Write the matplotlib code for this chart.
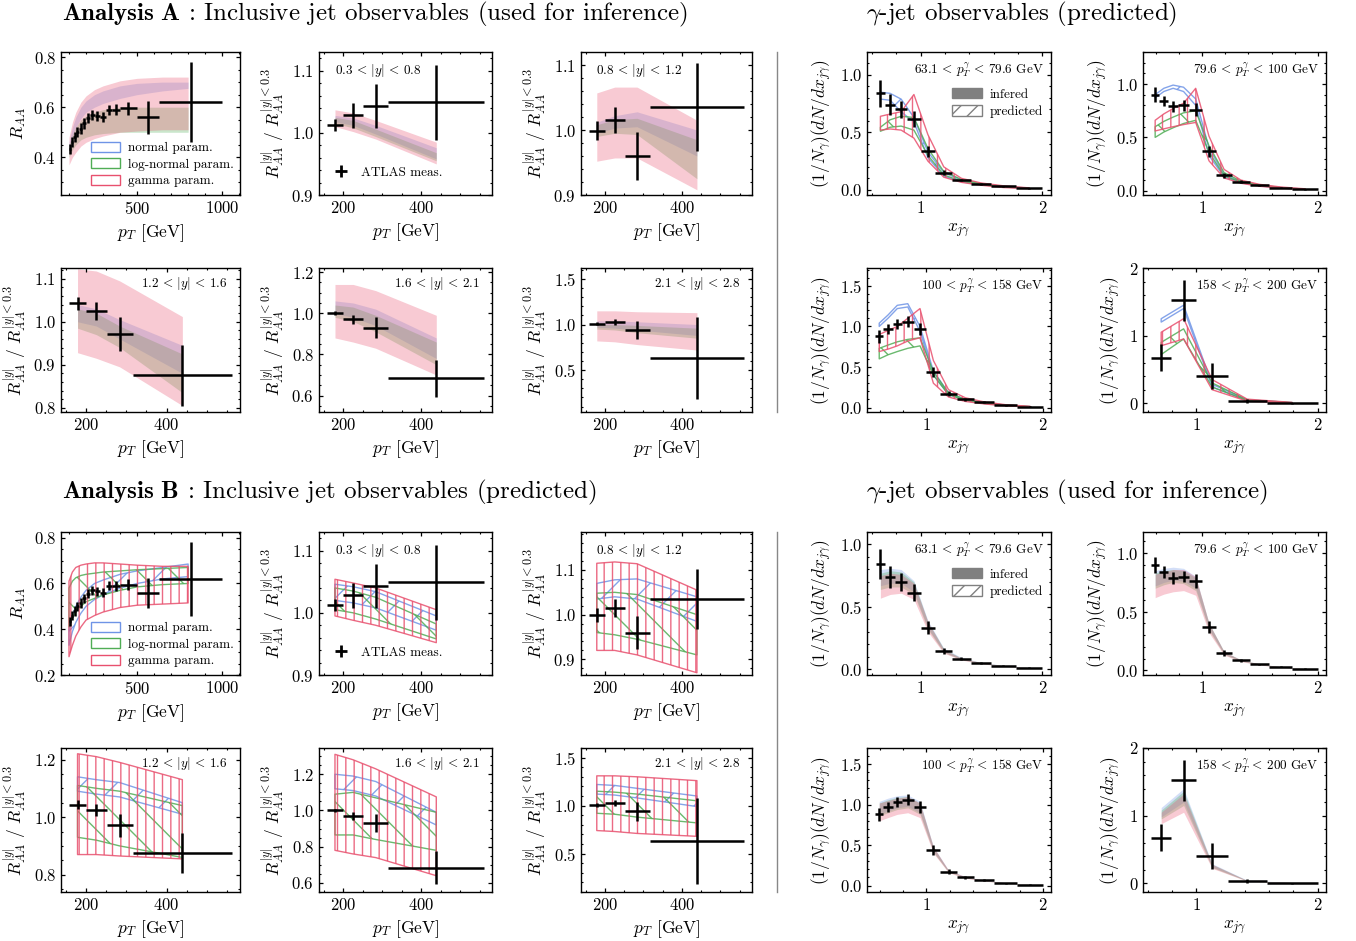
import matplotlib
matplotlib.use('Agg')
import matplotlib.pyplot as plt
from matplotlib.patches import Patch
from matplotlib.lines import Line2D
from matplotlib.ticker import MultipleLocator, AutoMinorLocator

plt.rcParams.update({
    'font.family': 'serif',
    'font.serif': ['cmr10'],
    'mathtext.fontset': 'cm',
    'axes.formatter.use_mathtext': True,
    'axes.linewidth': 1.0,
    'xtick.direction': 'in', 'ytick.direction': 'in',
    'xtick.top': True, 'ytick.right': True,
    'xtick.major.size': 3.0, 'ytick.major.size': 3.0,
    'xtick.minor.size': 1.6, 'ytick.minor.size': 1.6,
    'xtick.major.width': 0.9, 'ytick.major.width': 0.9,
    'xtick.minor.width': 0.8, 'ytick.minor.width': 0.8,
    'xtick.labelsize': 12, 'ytick.labelsize': 12,
    'axes.labelsize': 12.5,
    'hatch.linewidth': 1.0,
})

C_NORM = '#6f94e6'
C_LOGN = '#50ad55'
C_GAM = '#e8506e'

# ---------------- ATLAS data ----------------
raa_x = [106, 119, 133.5, 149.5, 168, 189, 212, 237.5, 266.5, 299, 335.5, 376.5, 449.5, 566, 815.5]
raa_xerr = [6, 7, 7.5, 8.5, 10, 11, 12, 13.5, 15.5, 17, 19.5, 21.5, 51.5, 65, 184.5]
raa_y = [0.435, 0.46, 0.48, 0.50, 0.515, 0.535, 0.555, 0.57, 0.565, 0.56, 0.59, 0.59, 0.595, 0.56, 0.62]
raa_yerr = [0.02, 0.02, 0.02, 0.02, 0.02, 0.02, 0.02, 0.02, 0.02, 0.02, 0.02, 0.022, 0.025, 0.065, 0.16]

rat_x = [179, 225.5, 283.5, 439]
rat_xerr = [21, 25.5, 32.5, 123]
rat1_y = [1.013, 1.028, 1.043, 1.049]
rat1_yerr = [0.01, 0.02, 0.036, 0.06]
rat2_y = [0.999, 1.015, 0.960, 1.035]
rat2_yerr = [0.015, 0.02, 0.037, 0.068]
rat3_y = [1.043, 1.025, 0.972, 0.875]
rat3_yerr = [0.015, 0.02, 0.04, 0.07]
rat4_y = [1.0, 0.97, 0.93, 0.685]
rat4_yerr = [0.01, 0.02, 0.05, 0.09]
rat5_y = [1.01, 1.03, 0.94, 0.63]
rat5_yerr = [0.02, 0.03, 0.1, 0.45]
rat_labels = [r'$0.3\,<\,|y|\,<\,0.8$', r'$0.8\,<\,|y|\,<\,1.2$', r'$1.2\,<\,|y|\,<\,1.6$',
              r'$1.6\,<\,|y|\,<\,2.1$', r'$2.1\,<\,|y|\,<\,2.8$']

g1_x = [0.67, 0.75, 0.84, 0.945, 1.06, 1.19, 1.335, 1.495, 1.68, 1.89]
g1_xerr = [0.04, 0.04, 0.05, 0.055, 0.06, 0.07, 0.075, 0.085, 0.1, 0.11]
g1_y = [0.84, 0.74, 0.70, 0.615, 0.335, 0.15, 0.086, 0.052, 0.03, 0.015]
g1_yerr = [0.12, 0.09, 0.075, 0.07, 0.05, 0.025, 0.012, 0.008, 0.005, 0.004]

g2_x = [0.595, 0.67, 0.75, 0.84, 0.945, 1.06, 1.19, 1.335, 1.495, 1.68, 1.89]
g2_xerr = [0.035, 0.04, 0.04, 0.05, 0.055, 0.06, 0.07, 0.075, 0.085, 0.1, 0.11]
g2_y = [0.90, 0.84, 0.79, 0.80, 0.76, 0.37, 0.145, 0.085, 0.05, 0.03, 0.015]
g2_yerr = [0.07, 0.05, 0.05, 0.05, 0.06, 0.05, 0.025, 0.012, 0.008, 0.005, 0.004]

g3_x = g2_x
g3_xerr = g2_xerr
g3_y = [0.88, 0.97, 1.03, 1.06, 0.97, 0.44, 0.17, 0.10, 0.065, 0.03, 0.012]
g3_yerr = [0.08, 0.06, 0.06, 0.07, 0.07, 0.06, 0.03, 0.015, 0.01, 0.006, 0.004]

g4_x = [0.71, 0.895, 1.13, 1.42, 1.79]
g4_xerr = [0.08, 0.105, 0.13, 0.16, 0.21]
g4_y = [0.67, 1.52, 0.40, 0.03, 0.0]
g4_yerr = [0.2, 0.3, 0.19, 0.03, 0.005]
g_labels = [r'$63.1\,<\,p_T^\gamma\,<\,79.6$ GeV', r'$79.6\,<\,p_T^\gamma\,<\,100$ GeV',
            r'$100\,<\,p_T^\gamma\,<\,158$ GeV', r'$158\,<\,p_T^\gamma\,<\,200$ GeV']

# ---------------- model bands (lo, hi) ----------------
raa_xm = [100, 120, 140, 170, 200, 250, 300, 400, 500, 650, 800]

# Analysis A, inclusive (inferred)
a_raa_norm = ([0.43, 0.48, 0.52, 0.555, 0.58, 0.60, 0.615, 0.635, 0.65, 0.665, 0.675],
              [0.46, 0.52, 0.56, 0.60, 0.625, 0.65, 0.665, 0.685, 0.695, 0.70, 0.70])
a_raa_logn = ([0.40, 0.43, 0.45, 0.47, 0.48, 0.49, 0.495, 0.50, 0.50, 0.50, 0.50],
              [0.45, 0.49, 0.52, 0.55, 0.565, 0.58, 0.59, 0.60, 0.60, 0.60, 0.60])
a_raa_gam = ([0.37, 0.40, 0.42, 0.445, 0.46, 0.475, 0.485, 0.50, 0.505, 0.51, 0.51],
             [0.48, 0.54, 0.58, 0.62, 0.645, 0.67, 0.685, 0.705, 0.715, 0.72, 0.72])

a_r1_norm = ([1.018, 1.012, 0.998, 0.958], [1.028, 1.024, 1.012, 0.976])
a_r1_logn = ([1.015, 1.008, 0.994, 0.955], [1.025, 1.020, 1.006, 0.968])
a_r1_gam = ([1.010, 1.002, 0.990, 0.950], [1.037, 1.032, 1.020, 0.985])
a_r2_norm = ([0.995, 1.003, 1.005, 0.960], [1.012, 1.022, 1.028, 1.000])
a_r2_logn = ([0.990, 0.995, 0.993, 0.925], [1.008, 1.016, 1.018, 0.985])
a_r2_gam = ([0.952, 0.957, 0.957, 0.908], [1.057, 1.066, 1.066, 1.015])
a_r3_norm = ([1.00, 0.99, 0.96, 0.88], [1.04, 1.03, 1.005, 0.945])
a_r3_logn = ([0.985, 0.97, 0.94, 0.835], [1.03, 1.02, 0.99, 0.925])
a_r3_gam = ([0.928, 0.915, 0.895, 0.805], [1.123, 1.118, 1.095, 1.012])
a_r4_norm = ([1.0, 0.98, 0.94, 0.78], [1.06, 1.05, 1.02, 0.88])
a_r4_logn = ([0.98, 0.96, 0.91, 0.75], [1.04, 1.03, 0.99, 0.86])
a_r4_gam = ([0.88, 0.86, 0.83, 0.70], [1.14, 1.14, 1.11, 0.99])
a_r5_norm = ([0.97, 0.96, 0.94, 0.88], [1.04, 1.04, 1.03, 1.0])
a_r5_logn = ([0.95, 0.94, 0.91, 0.85], [1.0, 1.0, 0.99, 0.96])
a_r5_gam = ([0.82, 0.81, 0.78, 0.72], [1.15, 1.15, 1.14, 1.13])

# Analysis A, gamma-jet (predicted)
a_g1_norm = ([0.79, 0.78, 0.68, 0.59, 0.28, 0.12, 0.07, 0.045, 0.025, 0.012],
             [0.85, 0.84, 0.79, 0.63, 0.33, 0.15, 0.085, 0.05, 0.03, 0.015])
a_g1_logn = ([0.51, 0.545, 0.555, 0.52, 0.30, 0.13, 0.075, 0.045, 0.025, 0.012],
             [0.545, 0.61, 0.64, 0.63, 0.36, 0.16, 0.09, 0.055, 0.03, 0.015])
a_g1_gam = ([0.52, 0.53, 0.52, 0.45, 0.25, 0.11, 0.065, 0.04, 0.02, 0.01],
            [0.64, 0.66, 0.68, 0.83, 0.48, 0.20, 0.10, 0.06, 0.035, 0.017])
a_g2_norm = ([0.87, 0.93, 0.96, 0.93, 0.80, 0.33, 0.13, 0.075, 0.045, 0.025, 0.012],
             [0.90, 0.96, 0.99, 0.97, 0.86, 0.40, 0.15, 0.085, 0.05, 0.03, 0.015])
a_g2_logn = ([0.50, 0.55, 0.59, 0.63, 0.66, 0.36, 0.14, 0.08, 0.048, 0.026, 0.013],
             [0.60, 0.65, 0.69, 0.73, 0.75, 0.42, 0.17, 0.09, 0.055, 0.03, 0.015])
a_g2_gam = ([0.56, 0.58, 0.60, 0.62, 0.64, 0.28, 0.12, 0.07, 0.042, 0.024, 0.012],
            [0.66, 0.72, 0.77, 0.82, 0.96, 0.51, 0.20, 0.10, 0.06, 0.035, 0.018])
a_g3_norm = ([1.0, 1.10, 1.22, 1.24, 0.94, 0.40, 0.16, 0.09, 0.05, 0.025, 0.01],
             [1.04, 1.14, 1.26, 1.28, 1.0, 0.45, 0.18, 0.10, 0.06, 0.03, 0.012])
a_g3_logn = ([0.60, 0.65, 0.69, 0.73, 0.76, 0.40, 0.16, 0.09, 0.05, 0.025, 0.01],
             [0.73, 0.77, 0.81, 0.84, 0.86, 0.44, 0.18, 0.10, 0.06, 0.03, 0.012])
a_g3_gam = ([0.69, 0.72, 0.76, 0.82, 0.86, 0.30, 0.13, 0.075, 0.045, 0.02, 0.008],
            [0.90, 0.95, 1.0, 1.10, 1.22, 0.58, 0.22, 0.12, 0.07, 0.035, 0.015])
a_g4_norm = ([1.20, 1.40, 0.24, 0.04, 0.005], [1.25, 1.45, 0.28, 0.05, 0.01])
a_g4_logn = ([0.72, 0.95, 0.24, 0.04, 0.005], [0.90, 1.10, 0.30, 0.05, 0.01])
a_g4_gam = ([0.85, 0.95, 0.20, 0.03, 0.004], [1.05, 1.25, 0.35, 0.06, 0.012])

# Analysis B, inclusive (predicted)
b_raa_norm = ([0.33, 0.39, 0.43, 0.47, 0.50, 0.53, 0.55, 0.58, 0.60, 0.62, 0.63],
              [0.40, 0.46, 0.50, 0.54, 0.57, 0.60, 0.615, 0.64, 0.655, 0.67, 0.685])
b_raa_logn = ([0.41, 0.45, 0.48, 0.50, 0.52, 0.535, 0.55, 0.57, 0.585, 0.595, 0.60],
              [0.58, 0.61, 0.625, 0.635, 0.64, 0.645, 0.65, 0.655, 0.66, 0.665, 0.67])
b_raa_gam = ([0.28, 0.33, 0.37, 0.41, 0.44, 0.46, 0.475, 0.495, 0.505, 0.51, 0.515],
             [0.61, 0.65, 0.67, 0.68, 0.685, 0.69, 0.69, 0.685, 0.68, 0.675, 0.675])
b_r1_norm = ([1.020, 1.016, 1.008, 0.972], [1.046, 1.042, 1.034, 0.995])
b_r1_logn = ([1.005, 1.0, 0.99, 0.958], [1.040, 1.035, 1.025, 0.982])
b_r1_gam = ([0.995, 0.988, 0.980, 0.952], [1.054, 1.048, 1.040, 1.005])
b_r2_norm = ([1.035, 1.04, 1.035, 0.985], [1.07, 1.078, 1.08, 1.04])
b_r2_logn = ([0.96, 0.955, 0.945, 0.91], [1.048, 1.05, 1.045, 1.0])
b_r2_gam = ([0.92, 0.92, 0.91, 0.87], [1.115, 1.118, 1.114, 1.055])
b_r3_norm = ([1.09, 1.08, 1.07, 1.01], [1.14, 1.13, 1.12, 1.05])
b_r3_logn = ([0.93, 0.92, 0.90, 0.86], [1.11, 1.10, 1.09, 1.04])
b_r3_gam = ([0.87, 0.87, 0.865, 0.855], [1.22, 1.21, 1.19, 1.13])
b_r4_norm = ([1.12, 1.11, 1.08, 0.92], [1.20, 1.19, 1.16, 0.99])
b_r4_logn = ([0.865, 0.865, 0.84, 0.78], [1.09, 1.10, 1.07, 0.99])
b_r4_gam = ([0.78, 0.76, 0.74, 0.64], [1.31, 1.28, 1.23, 1.075])
b_r5_norm = ([1.12, 1.11, 1.08, 0.99], [1.22, 1.21, 1.18, 1.10])
b_r5_logn = ([0.92, 0.91, 0.88, 0.82], [1.15, 1.14, 1.12, 1.05])
b_r5_gam = ([0.74, 0.73, 0.71, 0.68], [1.31, 1.31, 1.30, 1.26])

# Analysis B, gamma-jet (inferred)
b_g1_norm = ([0.67, 0.69, 0.69, 0.62, 0.33, 0.14, 0.08, 0.048, 0.027, 0.013],
             [0.80, 0.81, 0.80, 0.71, 0.39, 0.17, 0.095, 0.056, 0.032, 0.016])
b_g1_logn = ([0.64, 0.66, 0.66, 0.60, 0.32, 0.135, 0.078, 0.047, 0.026, 0.013],
             [0.77, 0.79, 0.78, 0.70, 0.38, 0.165, 0.09, 0.055, 0.031, 0.015])
b_g1_gam = ([0.57, 0.60, 0.61, 0.56, 0.30, 0.13, 0.075, 0.045, 0.025, 0.012],
            [0.75, 0.77, 0.76, 0.69, 0.38, 0.16, 0.09, 0.055, 0.03, 0.015])
b_g2_norm = ([0.72, 0.75, 0.77, 0.76, 0.70, 0.35, 0.14, 0.08, 0.048, 0.027, 0.013],
             [0.85, 0.87, 0.88, 0.87, 0.80, 0.40, 0.16, 0.09, 0.055, 0.03, 0.015])
b_g2_logn = ([0.70, 0.73, 0.75, 0.74, 0.68, 0.34, 0.135, 0.078, 0.047, 0.026, 0.013],
             [0.83, 0.85, 0.86, 0.85, 0.79, 0.40, 0.16, 0.09, 0.055, 0.03, 0.015])
b_g2_gam = ([0.62, 0.65, 0.67, 0.68, 0.64, 0.32, 0.13, 0.075, 0.045, 0.025, 0.012],
            [0.82, 0.84, 0.86, 0.86, 0.80, 0.40, 0.16, 0.09, 0.055, 0.03, 0.015])
b_g3_norm = ([0.88, 0.92, 0.96, 0.98, 0.90, 0.42, 0.17, 0.10, 0.06, 0.03, 0.013],
             [1.04, 1.08, 1.11, 1.12, 1.04, 0.48, 0.19, 0.11, 0.065, 0.035, 0.015])
b_g3_logn = ([0.86, 0.90, 0.94, 0.96, 0.88, 0.41, 0.165, 0.095, 0.058, 0.029, 0.012],
             [1.02, 1.06, 1.09, 1.10, 1.02, 0.47, 0.185, 0.105, 0.063, 0.034, 0.015])
b_g3_gam = ([0.80, 0.84, 0.88, 0.90, 0.84, 0.40, 0.16, 0.09, 0.055, 0.028, 0.012],
            [1.02, 1.05, 1.08, 1.10, 1.02, 0.48, 0.19, 0.11, 0.065, 0.035, 0.015])
b_g4_norm = ([0.98, 1.20, 0.24, 0.035, 0.006], [1.12, 1.40, 0.29, 0.045, 0.01])
b_g4_logn = ([0.95, 1.15, 0.23, 0.032, 0.005], [1.08, 1.36, 0.28, 0.04, 0.01])
b_g4_gam = ([0.88, 1.05, 0.22, 0.03, 0.005], [1.05, 1.32, 0.28, 0.04, 0.01])

# ---------------- layout (pixels) ----------------
W, H = 1356, 941
col_px = [(61, 179), (319, 173), (581, 171), (867, 184), (1143, 183)]
row_px = [(52, 143), (268, 144), (532, 143), (748, 144)]

fig = plt.figure(figsize=(W / 100, H / 100), dpi=100)


def make_ax(c, r):
    left, w = col_px[c]
    top, h = row_px[r]
    return fig.add_axes([left / W, 1 - (top + h) / H, w / W, h / H])


def style(ax, xlim, ylim, xmaj, ymaj):
    ax.set_xlim(xlim)
    ax.set_ylim(ylim)
    ax.xaxis.set_major_locator(MultipleLocator(xmaj))
    ax.yaxis.set_major_locator(MultipleLocator(ymaj))
    ax.xaxis.set_minor_locator(AutoMinorLocator())
    ax.yaxis.set_minor_locator(AutoMinorLocator())


def bands(ax, x, models, filled):
    hatches = ['/', '\\', '||']
    for (lo, hi), c, h in zip(models, [C_NORM, C_LOGN, C_GAM], hatches):
        if filled:
            ax.fill_between(x, lo, hi, color=c, alpha=0.3, lw=0)
        else:
            ax.fill_between(x, lo, hi, facecolor='none', edgecolor=c,
                            hatch=h, lw=1.0, alpha=0.85)


def points(ax, x, xerr, y, yerr):
    return ax.errorbar(x, y, xerr=xerr, yerr=yerr, fmt='none', ecolor='k',
                       elinewidth=1.8, capsize=0)


rat_ylab = r'$R_{AA}^{|y|}$ / $R_{AA}^{|y|<0.3}$'
g_ylab = r'$(1/N_\gamma)(dN/dx_{j\gamma})$'

analyses = {
    'A': dict(row=0, inc_filled=True,
              raa=[a_raa_norm, a_raa_logn, a_raa_gam],
              rat=[[a_r1_norm, a_r1_logn, a_r1_gam], [a_r2_norm, a_r2_logn, a_r2_gam],
                   [a_r3_norm, a_r3_logn, a_r3_gam], [a_r4_norm, a_r4_logn, a_r4_gam],
                   [a_r5_norm, a_r5_logn, a_r5_gam]],
              gam=[[a_g1_norm, a_g1_logn, a_g1_gam], [a_g2_norm, a_g2_logn, a_g2_gam],
                   [a_g3_norm, a_g3_logn, a_g3_gam], [a_g4_norm, a_g4_logn, a_g4_gam]],
              raa_ylim=(0.25, 0.82),
              rat_ylim=[(0.9, 1.13), (0.9, 1.12), (0.79, 1.125), (0.52, 1.22), (0.04, 1.62)],
              g_ylim=[(-0.045, 1.2), (-0.04, 1.3), (-0.055, 1.72), (-0.13, 2.0)],
              left_title=r'$\mathbf{Analysis\ A}$ : Inclusive jet observables (used for inference)',
              right_title=r'$\gamma$-jet observables (predicted)'),
    'B': dict(row=2, inc_filled=False,
              raa=[b_raa_norm, b_raa_logn, b_raa_gam],
              rat=[[b_r1_norm, b_r1_logn, b_r1_gam], [b_r2_norm, b_r2_logn, b_r2_gam],
                   [b_r3_norm, b_r3_logn, b_r3_gam], [b_r4_norm, b_r4_logn, b_r4_gam],
                   [b_r5_norm, b_r5_logn, b_r5_gam]],
              gam=[[b_g1_norm, b_g1_logn, b_g1_gam], [b_g2_norm, b_g2_logn, b_g2_gam],
                   [b_g3_norm, b_g3_logn, b_g3_gam], [b_g4_norm, b_g4_logn, b_g4_gam]],
              raa_ylim=(0.2, 0.825),
              rat_ylim=[(0.9, 1.13), (0.865, 1.185), (0.74, 1.24), (0.55, 1.345), (0.1, 1.6)],
              g_ylim=[(-0.045, 1.1), (-0.04, 1.18), (-0.08, 1.7), (-0.13, 2.0)],
              left_title=r'$\mathbf{Analysis\ B}$ : Inclusive jet observables (predicted)',
              right_title=r'$\gamma$-jet observables (used for inference)'),
}

rat_data = [(rat1_y, rat1_yerr), (rat2_y, rat2_yerr), (rat3_y, rat3_yerr),
            (rat4_y, rat4_yerr), (rat5_y, rat5_yerr)]
rat_pos = [(1, 0), (2, 0), (0, 1), (1, 1), (2, 1)]
rat_ymaj = {'A': [0.1, 0.1, 0.1, 0.2, 0.5], 'B': [0.1, 0.1, 0.2, 0.2, 0.5]}
g_data = [(g1_x, g1_xerr, g1_y, g1_yerr), (g2_x, g2_xerr, g2_y, g2_yerr),
          (g3_x, g3_xerr, g3_y, g3_yerr), (g4_x, g4_xerr, g4_y, g4_yerr)]
g_pos = [(3, 0), (4, 0), (3, 1), (4, 1)]
g_xlim = [(0.56, 2.07), (0.49, 2.07), (0.49, 2.07), (0.56, 2.07)]
g_ymaj = [0.5, 0.5, 0.5, 1]
SMALL = 9.5

for name, an in analyses.items():
    r0 = an['row']
    filled = an['inc_filled']

    # R_AA panel
    ax = make_ax(0, r0)
    bands(ax, raa_xm, an['raa'], filled)
    points(ax, raa_x, raa_xerr, raa_y, raa_yerr)
    style(ax, (53, 1105), an['raa_ylim'], 500, 0.2)
    ax.set_xlabel(r'$p_T$ [GeV]')
    ax.set_ylabel(r'$R_{AA}$')
    handles = [Patch(facecolor='none', edgecolor=c, lw=1) for c in [C_NORM, C_LOGN, C_GAM]]
    ax.legend(handles, ['normal param.', 'log-normal param.', 'gamma param.'],
              loc='lower left', bbox_to_anchor=(0.1, -0.03), frameon=False,
              fontsize=SMALL, handlelength=2.2, handleheight=0.8, labelspacing=0.3,
              handletextpad=0.6)

    # rapidity ratio panels
    for i, ((c, r), (yv, ye)) in enumerate(zip(rat_pos, rat_data)):
        ax = make_ax(c, r0 + r)
        bands(ax, rat_x, an['rat'][i], filled)
        points(ax, rat_x, rat_xerr, yv, ye)
        style(ax, (138, 582), an['rat_ylim'][i], 200, rat_ymaj[name][i])
        ax.set_xlabel(r'$p_T$ [GeV]')
        ax.set_ylabel(rat_ylab)
        if r == 0:
            ax.text(0.09, 0.87, rat_labels[i], transform=ax.transAxes,
                    fontsize=SMALL, ha='left', va='center')
        else:
            ax.text(0.93, 0.89, rat_labels[i], transform=ax.transAxes,
                    fontsize=SMALL, ha='right', va='center')
        if i == 0:
            ax.legend([Line2D([], [], color='k', marker='+', ms=9, mew=2, ls='none')],
                      ['ATLAS meas.'], loc='lower left', bbox_to_anchor=(0.0, 0.03),
                      frameon=False, fontsize=SMALL, handlelength=1.5)

    # gamma-jet panels
    for i, ((c, r), (xv, xe, yv, ye)) in enumerate(zip(g_pos, g_data)):
        ax = make_ax(c, r0 + r)
        bands(ax, xv, an['gam'][i], not filled)
        points(ax, xv, xe, yv, ye)
        style(ax, g_xlim[i], an['g_ylim'][i], 1, g_ymaj[i])
        ax.set_xlabel(r'$x_{j\gamma}$')
        ax.set_ylabel(g_ylab)
        ax.text(0.96, 0.88, g_labels[i], transform=ax.transAxes,
                fontsize=SMALL, ha='right', va='center')
        if i == 0:
            hs = [Patch(facecolor='#808080', edgecolor='#808080'),
                  Patch(facecolor='none', edgecolor='#808080', hatch='//')]
            ax.legend(hs, ['infered', 'predicted'], loc='upper left',
                      bbox_to_anchor=(0.4, 0.83), frameon=False, fontsize=SMALL,
                      handlelength=2.2, handleheight=0.8, labelspacing=0.35,
                      handletextpad=0.6)

    # titles and separator
    ytitle = 14 if r0 == 0 else 492
    fig.text(62 / W, 1 - ytitle / H, an['left_title'], fontsize=18, va='center', ha='left')
    fig.text(866 / W, 1 - ytitle / H, an['right_title'], fontsize=18, va='center', ha='left')
    top = row_px[r0][0]
    bot = row_px[r0 + 1][0] + row_px[r0 + 1][1]
    fig.add_artist(Line2D([777 / W, 777 / W], [1 - top / H, 1 - bot / H],
                          color='#888888', lw=1.0))

fig.savefig('out.png', dpi=100)
